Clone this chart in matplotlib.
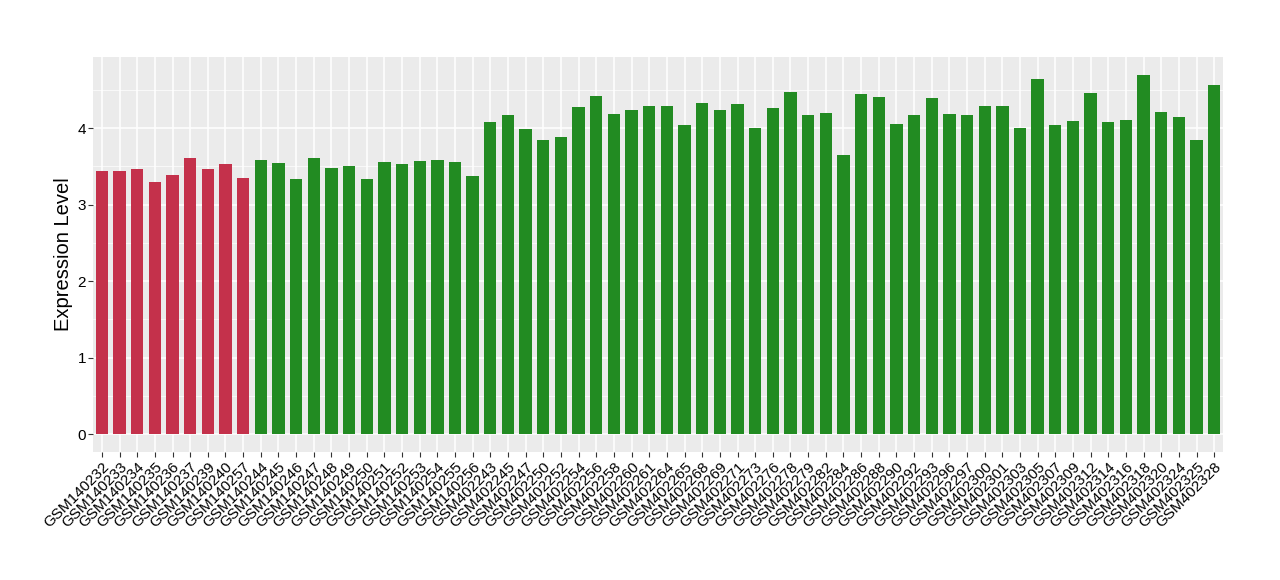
import matplotlib
matplotlib.use("Agg")
import matplotlib.pyplot as plt
from matplotlib.ticker import MultipleLocator

plt.rcParams['font.family'] = ['Liberation Sans', 'DejaVu Sans']

samples = [
    "GSM140232", "GSM140233", "GSM140234", "GSM140235", "GSM140236", "GSM140237",
    "GSM140239", "GSM140240", "GSM140257",
    "GSM140244", "GSM140245", "GSM140246", "GSM140247", "GSM140248", "GSM140249",
    "GSM140250", "GSM140251", "GSM140252", "GSM140253", "GSM140254", "GSM140255",
    "GSM140256",
    "GSM402243", "GSM402245", "GSM402247", "GSM402250", "GSM402252", "GSM402254",
    "GSM402256", "GSM402258", "GSM402260", "GSM402261", "GSM402264", "GSM402265",
    "GSM402268", "GSM402269", "GSM402271", "GSM402273", "GSM402276", "GSM402278",
    "GSM402279", "GSM402282", "GSM402284", "GSM402286", "GSM402288", "GSM402290",
    "GSM402292", "GSM402293", "GSM402296", "GSM402297", "GSM402300", "GSM402301",
    "GSM402303", "GSM402305", "GSM402307", "GSM402309", "GSM402312", "GSM402314",
    "GSM402316", "GSM402318", "GSM402320", "GSM402324", "GSM402325", "GSM402328",
]

values = [
    3.44, 3.44, 3.47, 3.30, 3.39, 3.61, 3.47, 3.53, 3.35,
    3.58, 3.55, 3.34, 3.61, 3.48, 3.51, 3.34, 3.56, 3.53, 3.57, 3.58, 3.56, 3.37,
    4.08, 4.17, 3.99, 3.85, 3.89, 4.28, 4.42, 4.19, 4.24, 4.29, 4.29, 4.04,
    4.33, 4.24, 4.32, 4.00, 4.27, 4.48, 4.17, 4.20, 3.65, 4.45, 4.41, 4.06,
    4.17, 4.40, 4.19, 4.17, 4.29, 4.29, 4.00, 4.65, 4.04, 4.10, 4.46, 4.08,
    4.11, 4.70, 4.21, 4.15, 3.85, 4.56,
]

groups = ["A"] * 9 + ["B"] * 55
group_colors = {"A": "#C4314B", "B": "#228B22"}

fig = plt.figure(figsize=(12.8, 5.8), dpi=100)
ax = fig.add_axes([0.0727, 0.2207, 0.8828, 0.6815])
ax.set_facecolor("#EBEBEB")

x = list(range(len(samples)))
ax.bar(x, values, width=0.7, color=[group_colors[g] for g in groups], zorder=3)

ymax = max(values)
ax.set_ylim(-0.05 * ymax, ymax * 1.05)
ax.set_xlim(-0.5, len(samples) - 0.5)

ax.yaxis.set_major_locator(MultipleLocator(1))
ax.yaxis.set_minor_locator(MultipleLocator(0.5))
ax.grid(which="major", axis="both", color="white", linewidth=1.1, zorder=0)
ax.grid(which="minor", axis="y", color="white", linewidth=0.5, zorder=0)
ax.set_axisbelow(True)

ax.set_xticks(x)
ax.set_xticklabels(samples, rotation=45, ha="right", va="top",
                   rotation_mode="anchor", fontsize=11, color="black")
for s in ax.spines.values():
    s.set_visible(False)
ax.tick_params(axis="both", which="major", color="#333333", length=3.5, width=0.8,
               labelsize=11, labelcolor="black")
ax.tick_params(axis="y", which="minor", length=0)
ax.tick_params(axis="x", pad=2)
ax.tick_params(axis="y", pad=1.5)
ax.set_ylabel("Expression Level", fontsize=14.5, labelpad=3)

fig.savefig("out.png", dpi=100)
